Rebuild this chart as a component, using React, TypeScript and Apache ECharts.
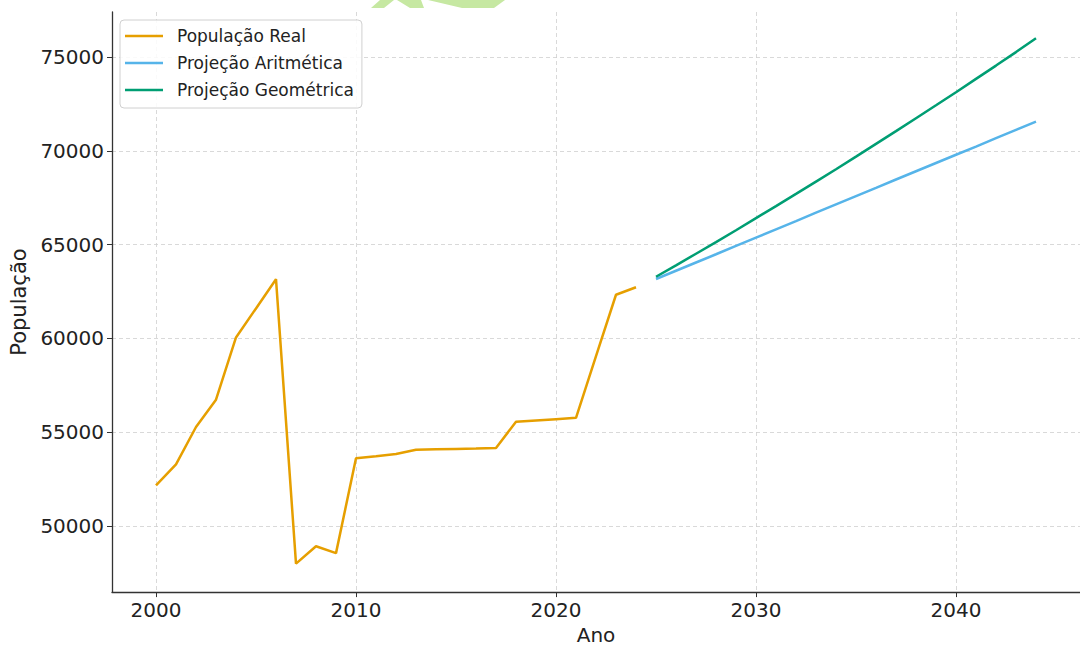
import React, { useEffect, useRef } from "react";
import * as echarts from "echarts";

const realYears = [2000, 2001, 2002, 2003, 2004, 2005, 2006, 2007, 2008, 2009, 2010, 2011, 2012, 2013, 2014, 2015, 2016, 2017, 2018, 2019, 2020, 2021, 2022, 2023, 2024];
const realPop = [52160, 53280, 55270, 56730, 60050, 61600, 63160, 47980, 48910, 48540, 53600, 53710, 53830, 54060, 54080, 54100, 54120, 54150, 55550, 55620, 55690, 55760, 59050, 62330, 62730];

const projYears = [2025, 2026, 2027, 2028, 2029, 2030, 2031, 2032, 2033, 2034, 2035, 2036, 2037, 2038, 2039, 2040, 2041, 2042, 2043, 2044];
const aritPop = [63170, 63610, 64050, 64490, 64940, 65380, 65820, 66260, 66710, 67150, 67590, 68030, 68480, 68920, 69360, 69800, 70240, 70690, 71130, 71570];
const geomPop = [63290, 63900, 64520, 65140, 65770, 66420, 67060, 67710, 68370, 69030, 69700, 70380, 71060, 71750, 72440, 73140, 73850, 74560, 75280, 76020];

const xTicks = [2000, 2010, 2020, 2030, 2040];
const yTicks = [50000, 55000, 60000, 65000, 70000, 75000];

const seriesNames = ["População Real", "Projeção Aritmética", "Projeção Geométrica"];
const colors = ["#E69F00", "#56B4E9", "#009E73"];

const FONT = "DejaVu Sans";

export default function App() {
  const ref = useRef<HTMLDivElement>(null);
  useEffect(() => {
    if (!ref.current) return;
    const chart = echarts.init(ref.current, undefined, { renderer: "svg" });
    const pair = (xs: number[], ys: number[]) => xs.map((x, i) => [x, ys[i]]);
    const gridLine = { show: true, lineStyle: { color: "#cfcfcf", width: 0.8, type: [4, 3] as any } };
    const plain = (v: number) => String(v);
    chart.setOption({
      animation: false,
      backgroundColor: "#ffffff",
      textStyle: { fontFamily: FONT },
      grid: { left: 112, top: 12, width: 977, bottom: 52, containLabel: false },
      xAxis: {
        type: "value",
        min: 1997.8,
        max: 2046.2,
        name: "Ano",
        nameLocation: "middle",
        nameGap: 31,
        nameTextStyle: { fontFamily: FONT, fontSize: 20, color: "#222" },
        axisLine: { show: true, lineStyle: { color: "#333", width: 1.3 } },
        axisTick: { show: true, length: 5, customValues: xTicks, lineStyle: { color: "#333", width: 1 } },
        axisLabel: { customValues: xTicks, formatter: plain, fontFamily: FONT, fontSize: 20, color: "#222", margin: 8 },
        splitLine: gridLine,
      },
      yAxis: {
        type: "value",
        min: 46460,
        max: 77420,
        name: "População",
        nameLocation: "middle",
        nameGap: 82,
        nameRotate: 90,
        nameTextStyle: { fontFamily: FONT, fontSize: 21, color: "#222" },
        axisLine: { show: true, lineStyle: { color: "#333", width: 1.3 } },
        axisTick: { show: true, length: 5, customValues: yTicks, lineStyle: { color: "#333", width: 1 } },
        axisLabel: { customValues: yTicks, formatter: plain, fontFamily: FONT, fontSize: 20, color: "#222", margin: 8 },
        splitLine: gridLine,
      },
      legend: {
        left: 120,
        top: 20,
        orient: "vertical",
        icon: "rect",
        itemWidth: 38,
        itemHeight: 2.5,
        itemGap: 7,
        padding: [6, 8, 8, 5],
        backgroundColor: "rgba(255,255,255,0.85)",
        borderColor: "#d0d0d0",
        borderWidth: 1,
        borderRadius: 4,
        textStyle: { fontFamily: FONT, fontSize: 17, color: "#222", lineHeight: 20, padding: [0, 0, 0, 9] },
        data: seriesNames,
      },
      graphic: [
        { type: "polygon", z: 100, shape: { points: [[371, 8], [384, 8], [394, 0], [380, 0]] }, style: { fill: "#c6e8a2" } },
        { type: "polygon", z: 100, shape: { points: [[397, 0], [421, 0], [424, 8], [410, 8]] }, style: { fill: "#c6e8a2" } },
        { type: "polygon", z: 100, shape: { points: [[428, 0], [505, 0], [494, 8], [462, 8]] }, style: { fill: "#c6e8a2" } },
      ],
      series: [
        {
          name: seriesNames[0],
          type: "line",
          data: pair(realYears, realPop),
          showSymbol: false,
          symbol: "none",
          lineStyle: { color: colors[0], width: 2.5 },
          itemStyle: { color: colors[0] },
        },
        {
          name: seriesNames[1],
          type: "line",
          data: pair(projYears, aritPop),
          showSymbol: false,
          symbol: "none",
          lineStyle: { color: colors[1], width: 2.5 },
          itemStyle: { color: colors[1] },
        },
        {
          name: seriesNames[2],
          type: "line",
          data: pair(projYears, geomPop),
          showSymbol: false,
          symbol: "none",
          lineStyle: { color: colors[2], width: 2.5 },
          itemStyle: { color: colors[2] },
        },
      ],
    });
    return () => chart.dispose();
  }, []);
  return (
    <div
      ref={ref}
      style={{ position: "absolute", left: 0, top: 0, width: 1080, height: 650 }}
    />
  );
}
